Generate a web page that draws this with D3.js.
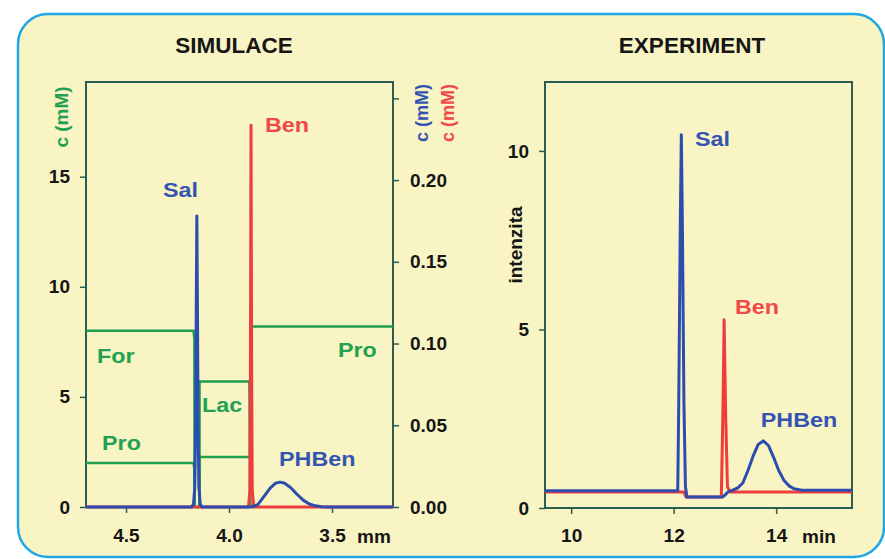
<!DOCTYPE html>
<html>
<head>
<meta charset="utf-8">
<script src="https://cdn.jsdelivr.net/npm/d3@7/dist/d3.min.js"></script>
<style>
  html, body { margin: 0; padding: 0; background: #ffffff; }
  svg { display: block; }
  text { font-family: "Liberation Sans", Arial, Helvetica, sans-serif; font-weight: bold; }
</style>
</head>
<body>
<svg id="chart" width="885" height="559"></svg>
<script>
// ---------------- DATA ----------------
// Panel titles
const panelTitles = ["SIMULACE", "EXPERIMENT"];

// SIMULACE: x = position (mm), reversed axis
const simXTicks = [4.5, 4.0, 3.5];
const simLeftTicks = [0, 5, 10, 15];            // green c (mM)
const simRightTicks = [0, 0.05, 0.10, 0.15, 0.20, 0.25]; // blue/red c (mM)
const simRightTickLabels = ["0.00", "0.05", "0.10", "0.15", "0.20", ""];

// green co-ion zones (left axis, mM)
const simFor = [[4.694, 8.0], [4.172, 8.0], [4.168, 7.6], [4.167, 0]];
const simPro = [[4.694, 2.0], [4.172, 2.0], [4.168, 1.7], [4.167, 0], [4.143, 0], [4.143, 2.27],
                [3.898, 2.27], [3.894, 8.2], [3.204, 8.2]];
const simLac = [[4.143, 0], [4.143, 5.7], [3.901, 5.7], [3.896, 0]];

// blue analytes Sal + PHBen (right axis, mM)
const simBlue = [[4.694, 0], [4.180, 0], [4.172, 0.002], [4.166, 0.012], [4.162, 0.05], [4.159, 0.12],
                 [4.156, 0.178], [4.153, 0.12], [4.150, 0.05], [4.146, 0.012], [4.140, 0.002], [4.132, 0],
                 [3.890, 0], [3.860, 0.0015], [3.830, 0.0065], [3.800, 0.0115], [3.775, 0.0145],
                 [3.752, 0.0152], [3.730, 0.0145], [3.700, 0.0118], [3.670, 0.0078], [3.640, 0.0042],
                 [3.610, 0.0018], [3.580, 0.0007], [3.550, 0.0002], [3.520, 0], [3.204, 0]];
// red analyte Ben (right axis, mM)
const simRed = [[4.694, 0], [3.905, 0], [3.899, 0.01], [3.896, 0.08], [3.893, 0.2335], [3.890, 0.08],
                [3.887, 0.01], [3.880, 0], [3.204, 0]];

// EXPERIMENT: x = time (min)
const expXTicks = [10, 12, 14];
const expYTicks = [0, 5, 10];
const expBlue = [[9.49, 0.48], [12.08, 0.48], [12.10, 3.0], [12.13, 8.0], [12.15, 10.45], [12.17, 8.0],
                 [12.20, 3.0], [12.23, 0.6], [12.26, 0.31], [12.95, 0.31], [13.00, 0.36], [13.06, 0.45],
                 [13.15, 0.50], [13.25, 0.56], [13.35, 0.70], [13.45, 1.05], [13.55, 1.45], [13.65, 1.78],
                 [13.75, 1.88], [13.85, 1.75], [13.95, 1.42], [14.05, 1.05], [14.15, 0.78], [14.25, 0.62],
                 [14.35, 0.54], [14.50, 0.50], [15.48, 0.50]];
const expRed = [[9.49, 0.45], [12.20, 0.45], [12.24, 0.31], [12.93, 0.31], [12.96, 2.6], [12.985, 5.27],
                [13.015, 2.6], [13.05, 0.6], [13.10, 0.45], [15.48, 0.45]];

// peak / zone labels (left edge / baseline in data units)
const simLabels = [
  {t: "Sal", x: 4.320, y: 14.1, c: "blue"},
  {t: "Ben", x: 3.825, y: 17.03, c: "red"},
  {t: "For", x: 4.641, y: 6.55, c: "green"},
  {t: "Pro", x: 4.616, y: 2.6, c: "green"},
  {t: "Lac", x: 4.131, y: 4.32, c: "green"},
  {t: "Pro", x: 3.471, y: 6.81, c: "green"},
  {t: "PHBen", x: 3.757, y: 1.86, c: "blue"}
];
const expLabels = [
  {t: "Sal", x: 12.417, y: 10.14, c: "blue"},
  {t: "Ben", x: 13.197, y: 5.43, c: "red"},
  {t: "PHBen", x: 13.70, y: 2.27, c: "blue"}
];

// ---------------- STYLE ----------------
const COL = {
  bg: "#f8f4c4", border: "#20a7e5", frame: "#2c5d55", ink: "#161616",
  green: "#1f9e4f", blue: "#2c4cae", red: "#ee3d3d",
  greenT: "#22a152", blueT: "#3454b2", redT: "#f04848"
};
const LABEL_STRETCH = 1.11;

const svg = d3.select("#chart");
svg.append("rect").attr("x", 18).attr("y", 14).attr("width", 866).attr("height", 543)
  .attr("rx", 30).attr("ry", 30).attr("fill", COL.bg).attr("stroke", COL.border).attr("stroke-width", 2.5);

// ---------------- SIMULACE ----------------
const L = {x0: 86, x1: 393, y0: 82, y1: 507};
const xS = d3.scaleLinear().domain([4.694, 3.204]).range([L.x0, L.x1]);
const yS = d3.scaleLinear().domain([0, 19.3]).range([L.y1, L.y0]);
const yS2 = d3.scaleLinear().domain([0, 0.26]).range([L.y1, L.y0]);

function styleAxis(g, fs) {
  g.select(".domain").remove();
  g.selectAll(".tick line").attr("stroke", COL.frame).attr("stroke-width", 1.5);
  g.selectAll(".tick text").attr("fill", COL.ink).style("font-size", fs + "px")
    .style("font-family", "'Liberation Sans', Arial, sans-serif").style("font-weight", "bold");
}

svg.append("g").attr("transform", `translate(${L.x0},0)`)
  .call(d3.axisLeft(yS).tickValues(simLeftTicks).tickFormat(d3.format("d")).tickSize(6).tickPadding(10))
  .call(g => styleAxis(g, 19));
svg.append("g").attr("transform", `translate(${L.x1},0)`)
  .call(d3.axisRight(yS2).tickValues(simRightTicks).tickFormat((d, i) => simRightTickLabels[i]).tickSize(6).tickPadding(11))
  .call(g => styleAxis(g, 19));
svg.append("g").attr("transform", `translate(0,${L.y1})`)
  .call(d3.axisBottom(xS).tickValues(simXTicks).tickFormat(d3.format(".1f")).tickSize(6).tickPadding(16))
  .call(g => styleAxis(g, 19));

svg.append("rect").attr("x", L.x0).attr("y", L.y0).attr("width", L.x1 - L.x0).attr("height", L.y1 - L.y0)
  .attr("fill", "none").attr("stroke", COL.frame).attr("stroke-width", 2);

const lineS = d3.line().x(d => xS(d[0])).y(d => yS(d[1]));
const lineS2 = d3.line().x(d => xS(d[0])).y(d => yS2(d[1]));
[simFor, simPro, simLac].forEach(s => {
  svg.append("path").attr("d", lineS(s)).attr("fill", "none").attr("stroke", COL.green)
    .attr("stroke-width", 2.5).attr("stroke-linejoin", "round");
});
svg.append("path").attr("d", lineS2(simRed)).attr("fill", "none").attr("stroke", COL.red)
  .attr("stroke-width", 3).attr("stroke-linejoin", "round");
svg.append("path").attr("d", lineS2(simBlue)).attr("fill", "none").attr("stroke", COL.blue)
  .attr("stroke-width", 3).attr("stroke-linejoin", "round");

const tcol = {blue: COL.blueT, red: COL.redT, green: COL.greenT};
function addLabel(l, xs, ys) {
  svg.append("text")
    .attr("transform", `translate(${xs(l.x)},${ys(l.y)}) scale(${LABEL_STRETCH},1)`)
    .attr("fill", tcol[l.c]).style("font-size", "21px").text(l.t);
}
simLabels.forEach(l => addLabel(l, xS, yS));

svg.append("text").attr("x", 234).attr("y", 53).attr("text-anchor", "middle").attr("fill", COL.ink)
  .style("font-size", "22.5px").text(panelTitles[0]);
svg.append("text").attr("transform", "translate(61,117) rotate(-90)").attr("dy", "0.35em")
  .attr("text-anchor", "middle").attr("fill", COL.greenT).style("font-size", "19px").text("c (mM)");
svg.append("text").attr("transform", "translate(422,113) rotate(-90)").attr("dy", "0.35em")
  .attr("text-anchor", "middle").attr("fill", COL.blueT).style("font-size", "18px").text("c (mM)");
svg.append("text").attr("transform", "translate(448,113) rotate(-90)").attr("dy", "0.35em")
  .attr("text-anchor", "middle").attr("fill", COL.redT).style("font-size", "18px").text("c (mM)");
svg.append("text").attr("x", 357).attr("y", 543).attr("fill", COL.ink).style("font-size", "19px").text("mm");

// ---------------- EXPERIMENT ----------------
const R = {x0: 545, x1: 852, y0: 82, y1: 508};
const xE = d3.scaleLinear().domain([9.49, 15.48]).range([R.x0, R.x1]);
const yE = d3.scaleLinear().domain([0, 11.93]).range([R.y1, R.y0]);

svg.append("g").attr("transform", `translate(${R.x0},0)`)
  .call(d3.axisLeft(yE).tickValues(expYTicks).tickFormat(d3.format("d")).tickSize(6).tickPadding(10))
  .call(g => styleAxis(g, 19));
svg.append("g").attr("transform", `translate(0,${R.y1})`)
  .call(d3.axisBottom(xE).tickValues(expXTicks).tickFormat(d3.format("d")).tickSize(6).tickPadding(15))
  .call(g => styleAxis(g, 19));
svg.append("rect").attr("x", R.x0).attr("y", R.y0).attr("width", R.x1 - R.x0).attr("height", R.y1 - R.y0)
  .attr("fill", "none").attr("stroke", COL.frame).attr("stroke-width", 2);

const lineE = d3.line().x(d => xE(d[0])).y(d => yE(d[1]));
svg.append("path").attr("d", lineE(expRed)).attr("fill", "none").attr("stroke", COL.red)
  .attr("stroke-width", 3).attr("stroke-linejoin", "round");
svg.append("path").attr("d", lineE(expBlue)).attr("fill", "none").attr("stroke", COL.blue)
  .attr("stroke-width", 3).attr("stroke-linejoin", "round");

expLabels.forEach(l => addLabel(l, xE, yE));
svg.append("text").attr("x", 692).attr("y", 53).attr("text-anchor", "middle").attr("fill", COL.ink)
  .style("font-size", "22.5px").text(panelTitles[1]);
svg.append("text").attr("transform", "translate(515,245) rotate(-90)").attr("dy", "0.35em")
  .attr("text-anchor", "middle").attr("fill", COL.ink).style("font-size", "19px").text("intenzita");
svg.append("text").attr("x", 802).attr("y", 543).attr("fill", COL.ink).style("font-size", "19px").text("min");
</script>
</body>
</html>
